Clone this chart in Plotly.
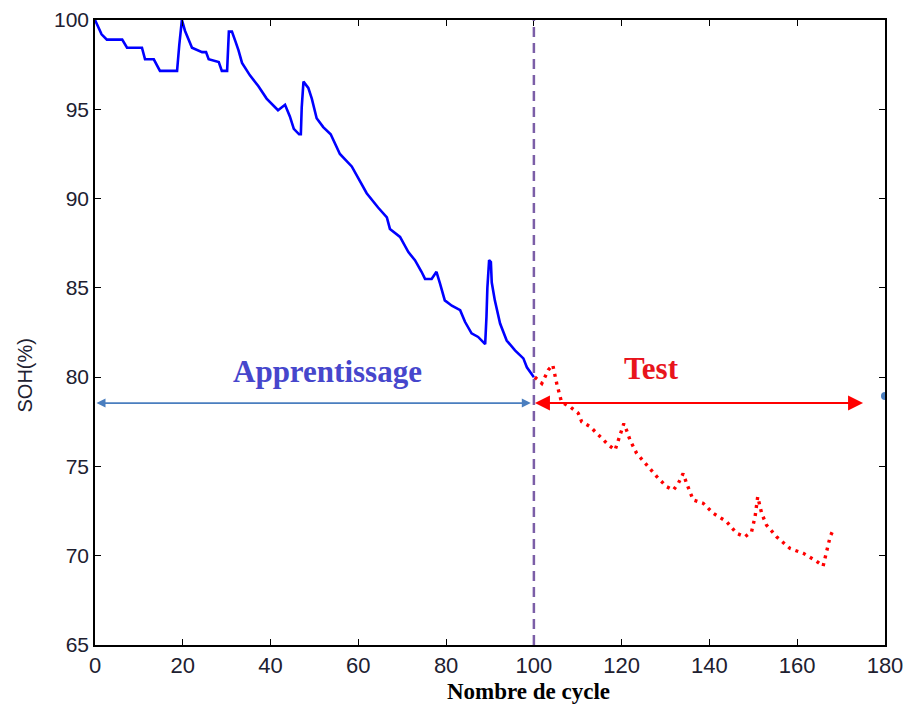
import plotly.graph_objects as go

# Learning phase (cycles 0-100), SOH in %
train_cycle = [0, 0.7, 1.5, 2.7, 6.2, 7.3, 10.7, 11.4, 13.4, 14.8, 18.7, 19.2, 19.5, 19.8,
               20.5, 21.2, 22.1, 24.4, 25.3, 25.9, 28.2, 28.9, 30.1, 30.5, 31.2, 32.0, 32.7,
               33.5, 35.3, 37.2, 39.1, 41.7, 43.3, 44.4, 45.3, 46.5, 46.9, 47.1, 47.5, 48.6,
               49.4, 50.5, 52.0, 53.7, 55.8, 58.5, 60.4, 61.9, 64.5, 66.5, 67.2, 69.5, 71.4,
               72.9, 74.4, 75.2, 76.7, 77.8, 78.6, 79.7, 81.3, 83.2, 84.3, 85.8, 87.3, 88.9,
               89.2, 89.4, 89.8, 90.2, 90.4, 91.1, 92.3, 93.8, 95.7, 97.6, 98.4, 99.5, 100.0]
train_soh = [100.0, 99.6, 99.2, 98.9, 98.9, 98.45, 98.45, 97.8, 97.8, 97.15, 97.15, 98.6, 99.4, 100.0,
             99.4, 99.0, 98.45, 98.2, 98.2, 97.8, 97.65, 97.15, 97.15, 99.35, 99.35, 98.8, 98.3,
             97.6, 96.9, 96.3, 95.6, 94.95, 95.25, 94.6, 93.9, 93.6, 93.6, 95.1, 96.55, 96.2,
             95.6, 94.5, 94.0, 93.6, 92.5, 91.8, 91.0, 90.3, 89.5, 88.95, 88.3, 87.85, 87.0,
             86.55, 85.9, 85.5, 85.5, 85.9, 85.25, 84.3, 84.0, 83.75, 83.1, 82.45, 82.25, 81.85,
             83.4, 85.0, 86.55, 86.45, 85.3, 84.3, 83.0, 82.05, 81.5, 81.05, 80.55, 80.2, 80.0]

# Test phase (cycles 100-168)
test_cycle = [100.2, 101.8, 103.3, 104.3, 105.2, 106.3, 108.2, 110.1, 110.9, 112.8, 115.1, 117.0,
              118.5, 119.2, 120.5, 121.1, 121.9, 123.4, 125.7, 128.0, 130.2, 131.8, 132.9, 134.0,
              134.8, 136.3, 138.6, 140.9, 143.9, 146.2, 148.1, 149.6, 150.4, 151.0, 151.9, 153.0,
              155.3, 158.4, 161.4, 164.0, 165.9, 166.7, 167.5, 168.1]
test_soh = [80.0, 79.65, 80.4, 80.68, 79.65, 78.6, 78.35, 77.98, 77.5, 77.23, 76.67, 76.2,
            75.92, 76.48, 77.4, 77.04, 76.48, 75.74, 75.08, 74.43, 73.87, 73.68, 74.05, 74.6,
            74.05, 73.12, 72.93, 72.37, 71.91, 71.25, 71.06, 71.35, 72.19, 73.3, 72.37, 71.72,
            71.06, 70.4, 70.13, 69.76, 69.42, 70.32, 71.06, 71.4]

x_ticks = [0, 20, 40, 60, 80, 100, 120, 140, 160, 180]
y_ticks = [65, 70, 75, 80, 85, 90, 95, 100]

split_cycle = 100
arrow_level = 78.55
train_span = [0, 99.3]
test_span = [99.9, 175.0]

fig = go.Figure()

fig.add_trace(go.Scatter(x=train_cycle, y=train_soh, mode="lines",
                         line=dict(color="#0000ff", width=2.6), showlegend=False))
fig.add_trace(go.Scatter(x=test_cycle, y=test_soh, mode="lines",
                         line=dict(color="#ff0000", width=3.4, dash="3px,5px"), showlegend=False))

# small leftover marker at the right frame edge
fig.add_trace(go.Scatter(x=[180], y=[78.94], mode="markers", cliponaxis=True,
                         marker=dict(color="#4a7ebf", size=8), showlegend=False))

# split line between learning and test
fig.add_shape(type="line", x0=split_cycle, x1=split_cycle, y0=65, y1=100,
              xref="x", yref="y", line=dict(color="#7b5ea7", width=2.5, dash="10px,6px"))

# double arrows
fig.add_annotation(x=train_span[1], y=arrow_level, ax=train_span[0], ay=arrow_level,
                   xref="x", yref="y", axref="x", ayref="y", text="", showarrow=True,
                   arrowside="end+start", arrowhead=2, startarrowhead=2, arrowsize=1,
                   startarrowsize=1, arrowwidth=1.8, arrowcolor="#4a7ebf")
fig.add_annotation(x=test_span[1], y=arrow_level, ax=test_span[0], ay=arrow_level,
                   xref="x", yref="y", axref="x", ayref="y", text="", showarrow=True,
                   arrowside="end+start", arrowhead=2, startarrowhead=2, arrowsize=1.5,
                   startarrowsize=1.5, arrowwidth=2, arrowcolor="#ff0000")

fig.add_annotation(x=52.9, y=80.3, xref="x", yref="y", text="<b>Apprentissage</b>",
                   showarrow=False, font=dict(family="Liberation Serif", size=31, color="#4646cc"))
fig.add_annotation(x=126.7, y=80.5, xref="x", yref="y", text="<b>Test</b>",
                   showarrow=False, font=dict(family="Liberation Serif", size=31, color="#e8141c"))

# axis titles
fig.add_annotation(x=(528 - 95) / 790, y=-0.074, xref="paper", yref="paper",
                   text="<b>Nombre de cycle</b>", showarrow=False, yanchor="middle",
                   font=dict(family="Liberation Serif", size=23, color="black"))
fig.add_annotation(x=-0.088, y=0.432, xref="paper", yref="paper", text="SOH(%)",
                   textangle=-90, showarrow=False, xanchor="center", yanchor="middle",
                   font=dict(family="Liberation Sans", size=20, color="#202030"))

axis_common = dict(showgrid=False, zeroline=False, showline=True, linecolor="black",
                   linewidth=1.5, mirror="ticks", ticks="inside", ticklen=6,
                   tickcolor="black", tickwidth=1.2, automargin=False,
                   ticklabeloverflow="allow")

fig.update_xaxes(range=[0, 180], tickvals=x_ticks, ticktext=[str(v) for v in x_ticks],
                 tickfont=dict(family="Liberation Sans", size=22, color="#202030"),
                 **axis_common)
fig.update_yaxes(range=[65, 100], tickvals=y_ticks, ticktext=[str(v) for v in y_ticks],
                 tickfont=dict(family="Liberation Sans", size=21, color="#202030"),
                 **axis_common)

fig.update_layout(width=909, height=706, margin=dict(l=95, r=24, t=20, b=61),
                  plot_bgcolor="white", paper_bgcolor="white", showlegend=False)

fig.write_html("out.html")
